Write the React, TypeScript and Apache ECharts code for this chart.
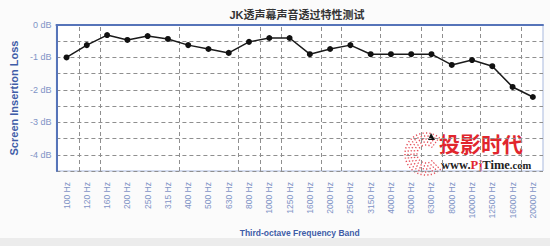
import React, { useEffect, useRef } from "react";
import * as echarts from "echarts";

const categories = [
  "100 Hz", "120 Hz", "160 Hz", "200 Hz", "250 Hz", "315 Hz", "400 Hz", "500 Hz",
  "630 Hz", "800 Hz", "1000 Hz", "1250 Hz", "1600 Hz", "2000 Hz", "2500 Hz", "3150 Hz",
  "4000 Hz", "5000 Hz", "6300 Hz", "8000 Hz", "10000 Hz", "12500 Hz", "16000 Hz", "20000 Hz",
];
const lossValues = [
  -1.0, -0.62, -0.31, -0.46, -0.34, -0.43, -0.62, -0.74,
  -0.86, -0.52, -0.4, -0.4, -0.9, -0.74, -0.62, -0.9,
  -0.9, -0.9, -0.9, -1.23, -1.08, -1.27, -1.91, -2.22,
];
// vertical dashed reference lines, in band units along the x axis
const verticalGridAt = [1.17, 2.23, 6.3, 9.36, 10.47, 11.57, 13.63, 14.64, 16.65, 18.75, 19.8, 21.8, 23.9];

const titleText = "JK透声幕声音透过特性测试";
const yAxisName = "Screen Insertion Loss";
const xAxisName = "Third-octave Frequency Band";

export default function App() {
  const ref = useRef<HTMLDivElement>(null);
  useEffect(() => {
    if (!ref.current) return;
    const chart = echarts.init(ref.current, null, { renderer: "svg" });
    const labelColor = "#7f93c6";
    const nameColor = "#3f5da8";
    const dash = { color: "#8f8f8f", width: 1, type: [4, 3] as number[] };

    const cx = 426, cy = 154;
    const arcs: any[] = [9, 12, 15, 18, 21].map((r) => ({
      type: "arc",
      shape: { cx, cy, r, startAngle: 0.8, endAngle: Math.PI * 2 - 0.8, clockwise: true },
      style: { stroke: "#e6505a", lineWidth: 1.5, lineDash: [1.2, 2.2], fill: null },
      silent: true,
    }));

    chart.setOption({
      animation: false,
      backgroundColor: "#fbfbfb",
      grid: {
        left: 46.7, top: 25, right: 7, bottom: 75,
        show: true, backgroundColor: "#ffffff", borderColor: "#a9b9de", borderWidth: 1,
      },
      xAxis: [
        {
          type: "category",
          data: categories,
          boundaryGap: true,
          axisLine: { show: true, lineStyle: { color: "#5674b9", width: 2 } },
          axisTick: { show: false },
          splitLine: { show: false },
          axisLabel: {
            rotate: 90, margin: 11, fontSize: 8.5, color: labelColor,
            fontFamily: "Liberation Sans, Arial, sans-serif", interval: 0,
          },
          name: xAxisName,
          nameLocation: "middle",
          nameGap: 57,
          nameTextStyle: { color: nameColor, fontSize: 8.5, fontWeight: "bold", fontFamily: "Liberation Sans, Arial, sans-serif" },
        },
        {
          type: "value", min: 0, max: 24 + 1, show: false, position: "bottom",
          splitLine: { show: false },
        },
      ],
      yAxis: {
        type: "value",
        min: -4.5,
        max: 0,
        interval: 0.5,
        axisLine: { show: true, lineStyle: { color: "#5674b9", width: 2 } },
        axisTick: { show: false },
        splitLine: { show: true, lineStyle: dash },
        axisLabel: {
          margin: 5, fontSize: 9, color: labelColor, fontFamily: "Liberation Sans, Arial, sans-serif",
          formatter: (v: number) => (Number.isInteger(v) && v > -4.5 ? (v === 0 ? "0 dB" : `${v} dB`) : ""),
        },
        name: yAxisName,
        nameLocation: "middle",
        nameGap: 31,
        nameTextStyle: { color: nameColor, fontSize: 11, fontWeight: "bold", fontFamily: "Liberation Sans, Arial, sans-serif" },
      },
      series: [
        {
          type: "line",
          data: lossValues,
          xAxisIndex: 0,
          symbol: "circle",
          symbolSize: 6,
          lineStyle: { color: "#1a1a1a", width: 1.5 },
          itemStyle: { color: "#111111" },
          z: 5,
        },
        {
          type: "line",
          xAxisIndex: 1,
          data: [],
          markLine: {
            silent: true,
            symbol: ["none", "none"],
            label: { show: false },
            lineStyle: dash,
            data: verticalGridAt.map((v) => ({ xAxis: v })),
          },
        },
      ],
      graphic: [
        {
          type: "rect", shape: { x: 0, y: 238, width: 550, height: 8 },
          style: { fill: "#ececec" }, silent: true, z: -10,
        },
        {
          type: "text", x: 297, y: 15,
          style: {
            text: titleText, textAlign: "center", textVerticalAlign: "middle",
            fontSize: 11, fontWeight: "bold", fill: "#333333",
            fontFamily: "Liberation Sans, Noto Sans CJK SC, sans-serif",
          },
        },
        ...arcs,
        {
          type: "polygon",
          shape: { points: [[431, 133], [435, 140], [428, 140]] },
          style: { fill: "#111111" }, silent: true,
        },
        {
          type: "text", x: 439, y: 143,
          style: {
            text: "投影时代", textAlign: "left", textVerticalAlign: "middle",
            fontSize: 21, fontWeight: "bold", fill: "#e1262d",
            fontFamily: "Noto Sans CJK SC, sans-serif",
          },
        },
        {
          type: "text", x: 441, y: 165,
          style: {
            text: "{a|www.}{b|Pj}{a|Time}{c|.com}", textAlign: "left", textVerticalAlign: "middle",
            rich: {
              a: { fontSize: 12.5, fontWeight: "bold", fill: "#222222", fontFamily: "Liberation Serif, serif" },
              b: { fontSize: 12.5, fontWeight: "bold", fill: "#e1262d", fontFamily: "Liberation Serif, serif" },
              c: { fontSize: 10.5, fontWeight: "bold", fill: "#222222", fontFamily: "Liberation Serif, serif" },
            },
          },
        },
      ],
    });
    return () => chart.dispose();
  }, []);
  return (
    <div
      ref={ref}
      style={{ position: "fixed", left: 0, top: 0, width: 550, height: 246 }}
    />
  );
}
